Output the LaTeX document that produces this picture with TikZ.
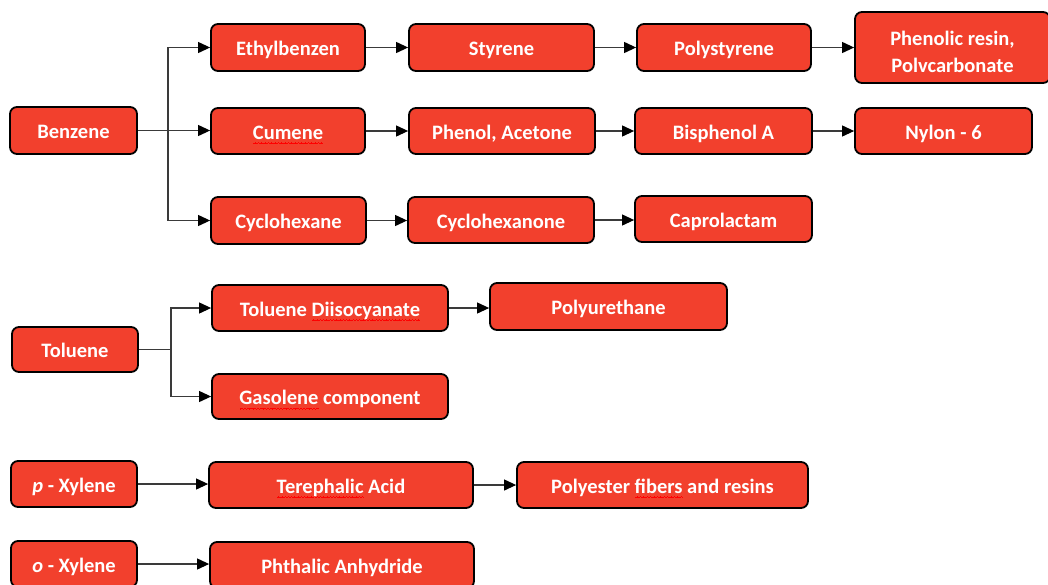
\documentclass[tikz,border=0pt]{standalone}
\usepackage{fontspec}
\setmainfont{Carlito}
\usetikzlibrary{arrows.meta}
\definecolor{boxred}{HTML}{F2402D}
\definecolor{linegray}{HTML}{3A3A3A}
\newcommand\wavecell{\hbox{\vrule width0.8pt height0.8pt depth0pt\vrule width0.8pt height1.5pt depth-0.7pt\vrule width0.8pt height2.2pt depth-1.4pt\vrule width0.8pt height1.5pt depth-0.7pt}}
\newcommand\spellwave[1]{\setbox0=\hbox{#1}\rlap{\lower4.8pt\hbox to\wd0{\color{red}\xleaders\wavecell\hfill}}\box0\relax}
\tikzset{
  chemfont/.style={font=\fontsize{20.5}{27.5}\selectfont\bfseries, text=white},
  chem/.style={draw=black, line width=1.8pt, rounded corners=7pt, fill=boxred,
    chemfont, inner sep=0pt, anchor=center, text height=20pt, text depth=3.2pt},
  chembig/.style={draw=black, line width=1.8pt, rounded corners=7pt, fill=boxred,
    inner sep=0pt, anchor=center},
  flow/.style={draw=linegray, line width=1.1pt, -{Triangle[length=12pt,width=11pt,color=black]}},
  plain/.style={draw=linegray, line width=1.1pt}
}
\begin{document}
\begin{tikzpicture}[x=1pt,y=-1pt]
\useasboundingbox (0,0) rectangle (1048,584);
\clip (0,0) rectangle (1048,584);
% Benzene group
\node[chem, minimum width=127pt, minimum height=47pt] (benzene) at (73.5,130.5) {Benzene};
\node[chem, minimum width=154pt, minimum height=47pt] (ethyl) at (288,47.5) {Ethylbenzen};
\node[chem, minimum width=154pt, minimum height=46pt] (cumene) at (288,131) {\spellwave{Cumene}};
\node[chem, minimum width=155pt, minimum height=47pt] (cyclohexane) at (288.5,220.5) {Cyclohexane};
\node[chem, minimum width=185pt, minimum height=47pt] (styrene) at (501.5,47.5) {Styrene};
\node[chem, minimum width=174pt, minimum height=47pt] (polystyrene) at (724,47.5) {Polystyrene};
\node[chembig, minimum width=195pt, minimum height=71pt] (phenolic) at (952.5,47.5) {};
\node[chemfont, align=center, inner sep=0pt] (phenolictext) at ([yshift=-4.5pt]phenolic.center) {Phenolic resin,\\Polvcarbonate};
\node[chem, minimum width=186pt, minimum height=46pt] (phenol) at (502,131) {Phenol, Acetone};
\node[chem, minimum width=177pt, minimum height=46pt] (bisphenol) at (723.5,131) {Bisphenol A};
\node[chem, minimum width=177pt, minimum height=46pt] (nylon) at (943.5,131) {Nylon - 6};
\node[chem, minimum width=186pt, minimum height=46pt] (cyclohexanone) at (501,220) {Cyclohexanone};
\node[chem, minimum width=177pt, minimum height=46pt] (caprolactam) at (723.5,219) {Caprolactam};
% Toluene group
\node[chem, minimum width=126pt, minimum height=45pt] (toluene) at (75,349.5) {Toluene};
\node[chem, minimum width=236pt, minimum height=46pt] (tdi) at (330,308) {Toluene \spellwave{Diisocyanate}};
\node[chem, minimum width=237pt, minimum height=47pt] (polyurethane) at (608.5,306.5) {Polyurethane};
\node[chem, minimum width=236pt, minimum height=45pt] (gasolene) at (330,396.5) {\spellwave{Gasolene} component};
% Xylenes
\node[chem, minimum width=126pt, minimum height=46pt] (pxylene) at (74,484) {\textit{p} - Xylene};
\node[chem, minimum width=264pt, minimum height=46pt] (terephalic) at (341,485) {\spellwave{Terephalic} Acid};
\node[chem, minimum width=291pt, minimum height=46pt] (polyester) at (662.5,485) {Polyester \spellwave{fibers} and resins};
\node[chem, minimum width=126pt, minimum height=46pt] (oxylene) at (74,564) {\textit{o} - Xylene};
\node[chem, minimum width=264pt, minimum height=46pt] (phthalic) at (342,565) {Phthalic Anhydride};
% connectors
\coordinate (bj) at (168,130.5);
\draw[plain] (benzene.east) -- (bj);
\draw[flow] (bj) |- (ethyl.west);
\draw[flow] (benzene.east) -- (benzene.east -| cumene.west);
\draw[flow] (bj) |- (cyclohexane.west);
\draw[flow] (ethyl.east) -- (ethyl.east -| styrene.west);
\draw[flow] (styrene.east) -- (styrene.east -| polystyrene.west);
\draw[flow] (polystyrene.east) -- (polystyrene.east -| phenolic.west);
\draw[flow] (cumene.east) -- (cumene.east -| phenol.west);
\draw[flow] (phenol.east) -- (phenol.east -| bisphenol.west);
\draw[flow] (bisphenol.east) -- (bisphenol.east -| nylon.west);
\draw[flow] (cyclohexane.east) -- (cyclohexane.east -| cyclohexanone.west);
\draw[flow] (cyclohexanone.east) -- (cyclohexanone.east -| caprolactam.west);
\coordinate (tj) at (171,349.5);
\draw[plain] (toluene.east) -- (tj);
\draw[flow] (tj) |- (tdi.west);
\draw[flow] (tj) |- (gasolene.west);
\draw[flow] (tdi.east) -- (tdi.east -| polyurethane.west);
\draw[flow] (pxylene.east) -- (pxylene.east -| terephalic.west);
\draw[flow] (terephalic.east) -- (terephalic.east -| polyester.west);
\draw[flow] (oxylene.east) -- (oxylene.east -| phthalic.west);
\end{tikzpicture}
\end{document}
